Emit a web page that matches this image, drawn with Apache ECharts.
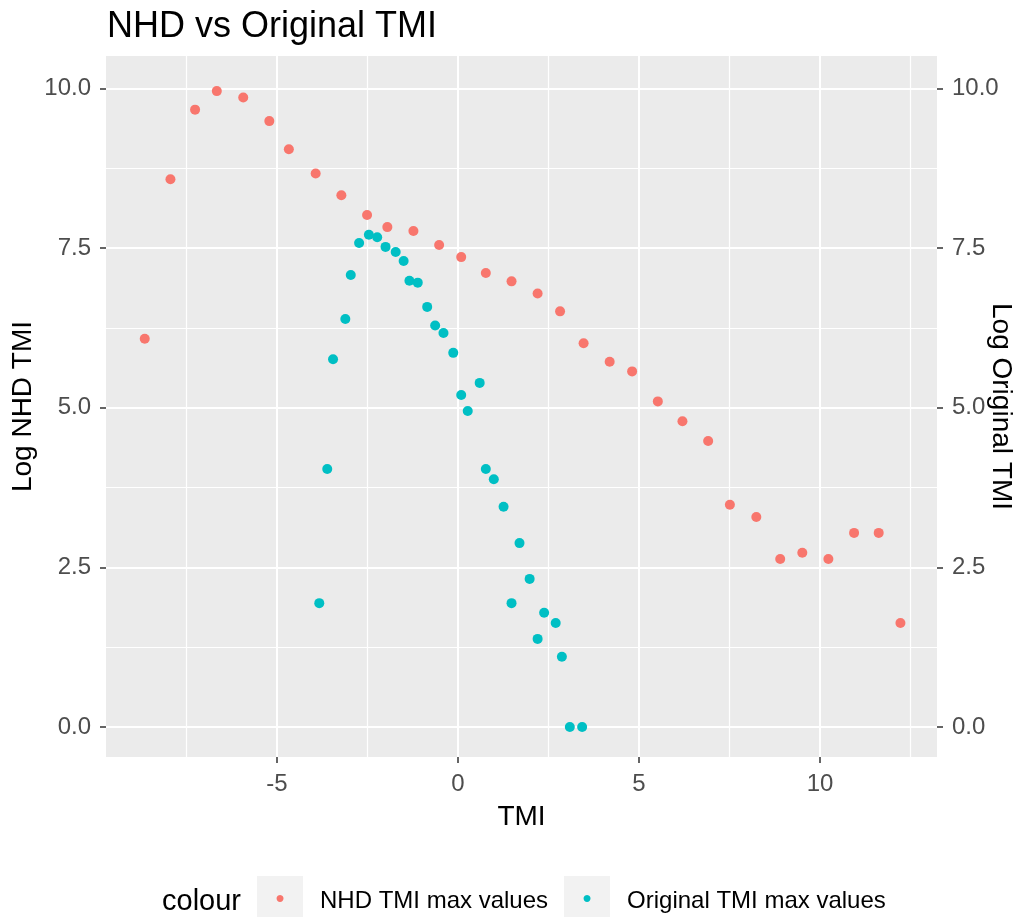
<!DOCTYPE html>
<html>
<head>
<meta charset="utf-8">
<title>NHD vs Original TMI</title>
<script src="https://cdn.jsdelivr.net/npm/echarts@6/dist/echarts.min.js"></script>
<style>
  html, body { margin: 0; padding: 0; background: #fff; }
  #chart { width: 1031px; height: 917px; }
</style>
</head>
<body>
<div id="chart"></div>
<script>
// NHD TMI max values (red)
const nhdX = [-8.65, -7.94, -7.26, -6.66, -5.93, -5.21, -4.67, -3.93, -3.22, -2.51, -1.95, -1.23,
  -0.52, 0.09, 0.77, 1.48, 2.20, 2.82, 3.47, 4.19, 4.81, 5.52, 6.20, 6.91,
  7.51, 8.24, 8.90, 9.51, 10.23, 10.94, 11.62, 12.22];
const nhdY = [6.08, 8.58, 9.67, 9.96, 9.86, 9.49, 9.05, 8.67, 8.33, 8.02, 7.83, 7.77,
  7.55, 7.36, 7.11, 6.98, 6.79, 6.51, 6.01, 5.72, 5.57, 5.10, 4.79, 4.48,
  3.48, 3.29, 2.63, 2.73, 2.63, 3.04, 3.04, 1.63];

// Original TMI max values (teal)
const origX = [-3.83, -3.61, -3.45, -3.11, -2.96, -2.73, -2.46, -2.23, -2.00, -1.72, -1.50, -1.34,
  -1.11, -0.85, -0.63, -0.40, -0.13, 0.09, 0.27, 0.60, 0.77, 0.99, 1.26, 1.48,
  1.70, 1.98, 2.20, 2.38, 2.70, 2.87, 3.09, 3.43];
const origY = [1.94, 4.04, 5.76, 6.39, 7.08, 7.58, 7.71, 7.67, 7.52, 7.44, 7.30, 6.99,
  6.96, 6.58, 6.29, 6.17, 5.86, 5.20, 4.95, 5.39, 4.04, 3.88, 3.45, 1.94,
  2.88, 2.32, 1.38, 1.79, 1.63, 1.10, 0.00, 0.00];

const seriesNames = ['NHD TMI max values', 'Original TMI max values'];

// breaks (major get labels, minor only grid lines)
const xBreaks = [-5, 0, 5, 10];
const xMinorBreaks = [-7.5, -2.5, 2.5, 7.5, 12.5];
const yBreaks = [0, 2.5, 5, 7.5, 10];
const yMinorBreaks = [1.25, 3.75, 6.25, 8.75];

const X_MIN = -9.72, X_MAX = 13.23;
const Y_MIN = -0.47, Y_MAX = 10.51;

const COLORS = ['#F8766D', '#00BFC4'];
const FONT = '"Liberation Sans", Arial, sans-serif';

const zip = (xs, ys) => xs.map((x, i) => [x, ys[i]]);

const chart = echarts.init(document.getElementById('chart'), null, { renderer: 'canvas' });

const tickStyle = { show: true, length: 6, lineStyle: { color: '#333333', width: 1.5 } };
const labelStyle = { color: '#4D4D4D', fontSize: 24, fontFamily: FONT, margin: 15 };
const nameStyle = { color: '#000', fontSize: 28, fontFamily: FONT };
const noLine = { show: false, onZero: false };

const option = {
  animation: false,
  backgroundColor: '#fff',
  title: [
    {
      text: 'NHD vs Original TMI',
      left: 107, top: 9, padding: 0,
      textStyle: { fontSize: 36, fontWeight: 'normal', color: '#000', fontFamily: FONT },
    },
    {
      text: 'colour',
      left: 162, top: 887, padding: 0,
      textStyle: { fontSize: 29, fontWeight: 'normal', color: '#000', fontFamily: FONT },
    },
  ],
  legend: {
    data: seriesNames,
    left: 252, top: 876, padding: 0,
    icon: 'none', itemWidth: 0, itemHeight: 0, itemGap: 11,
    selectedMode: false,
    formatter: (name) => `{k${seriesNames.indexOf(name)}|●}{t|${name}}`,
    textStyle: {
      fontFamily: FONT,
      rich: {
        k0: { width: 46, height: 46, lineHeight: 46, align: 'center', backgroundColor: '#F2F2F2', color: COLORS[0], fontSize: 16, fontFamily: FONT },
        k1: { width: 46, height: 46, lineHeight: 46, align: 'center', backgroundColor: '#F2F2F2', color: COLORS[1], fontSize: 16, fontFamily: FONT },
        t: { fontSize: 24, color: '#000', fontFamily: FONT, padding: [4, 0, 0, 17] },
      },
    },
  },
  grid: {
    left: 106, right: 94, top: 56, bottom: 160,
    outerBoundsMode: 'none', containLabel: false,
    show: true, backgroundColor: '#EBEBEB', borderWidth: 0,
  },
  xAxis: [
    {
      type: 'value', min: X_MIN, max: X_MAX, position: 'bottom',
      name: 'TMI', nameLocation: 'middle', nameGap: 46, nameMoveOverlap: false, nameTextStyle: nameStyle,
      axisLine: noLine,
      axisTick: { ...tickStyle, customValues: xBreaks },
      axisLabel: { ...labelStyle, customValues: xBreaks, formatter: (v) => String(v) },
      splitLine: { show: true, lineStyle: { color: '#FFFFFF', width: 2 } },
    },
    {
      // minor grid lines only
      type: 'value', min: X_MIN, max: X_MAX, position: 'bottom',
      axisLine: noLine,
      axisTick: { show: false, customValues: xMinorBreaks },
      axisLabel: { show: false },
      splitLine: { show: true, lineStyle: { color: '#FFFFFF', width: 1.2 } },
    },
  ],
  yAxis: [
    {
      type: 'value', min: Y_MIN, max: Y_MAX, position: 'left',
      name: 'Log NHD TMI', nameLocation: 'middle', nameGap: 69, nameRotate: 90, nameMoveOverlap: false, nameTextStyle: nameStyle,
      axisLine: noLine,
      axisTick: { ...tickStyle, customValues: yBreaks },
      axisLabel: { ...labelStyle, customValues: yBreaks, formatter: (v) => v.toFixed(1) },
      splitLine: { show: true, lineStyle: { color: '#FFFFFF', width: 2 } },
    },
    {
      // duplicated axis on the right
      type: 'value', min: Y_MIN, max: Y_MAX, position: 'right',
      name: 'Log Original TMI', nameLocation: 'middle', nameGap: 50, nameRotate: -90, nameMoveOverlap: false, nameTextStyle: nameStyle,
      axisLine: noLine,
      axisTick: { ...tickStyle, customValues: yBreaks },
      axisLabel: { ...labelStyle, customValues: yBreaks, formatter: (v) => v.toFixed(1) },
      splitLine: { show: false },
    },
    {
      // minor grid lines only
      type: 'value', min: Y_MIN, max: Y_MAX, position: 'left',
      axisLine: noLine,
      axisTick: { show: false, customValues: yMinorBreaks },
      axisLabel: { show: false },
      splitLine: { show: true, lineStyle: { color: '#FFFFFF', width: 1.2 } },
    },
  ],
  series: [
    {
      name: seriesNames[0], type: 'scatter', xAxisIndex: 0, yAxisIndex: 0,
      symbol: 'circle', symbolSize: 10,
      itemStyle: { color: COLORS[0], opacity: 1 },
      data: zip(nhdX, nhdY),
    },
    {
      name: seriesNames[1], type: 'scatter', xAxisIndex: 0, yAxisIndex: 0,
      symbol: 'circle', symbolSize: 10,
      itemStyle: { color: COLORS[1], opacity: 1 },
      data: zip(origX, origY),
    },
  ],
};

chart.setOption(option);
</script>
</body>
</html>
